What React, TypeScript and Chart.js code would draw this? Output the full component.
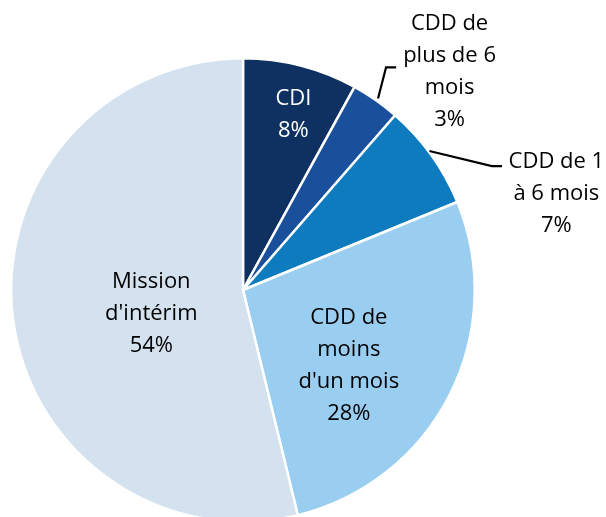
import React, { useEffect, useRef } from "react";
import { Chart, registerables } from "chart.js";

Chart.register(...registerables);

const categories = [
  "CDI",
  "CDD de plus de 6 mois",
  "CDD de 1 à 6 mois",
  "CDD de moins d'un mois",
  "Mission d'intérim",
];
const values = [8, 3.4, 7.4, 27.4, 53.8];
const percentLabels = ["8%", "3%", "7%", "28%", "54%"];
const labelLines = [
  ["CDI"],
  ["CDD de", "plus de 6", "mois"],
  ["CDD de 1", "à 6 mois"],
  ["CDD de", "moins", "d'un mois"],
  ["Mission", "d'intérim"],
];
const colors = ["#0f3162", "#1a4f9c", "#0f7bbf", "#9acef1", "#d4e1ee"];
const textColors = ["#ffffff", "#000000", "#000000", "#000000", "#000000"];

// label placement relative to pie centre, in units of a 230px radius
const REF_R = 230;
const labelPos = [
  { x: 50, y: -184 },
  { x: 205, y: -258.5 },
  { x: 311, y: -121.5 },
  { x: 105, y: 34 },
  { x: -91, y: -1.5 },
];
const leaders: Record<number, number[][]> = {
  1: [
    [134, -190],
    [142, -221],
    [152, -221],
  ],
  2: [
    [185, -138],
    [247, -123],
    [257, -123],
  ],
};

const FONT = "22px 'Open Sans', sans-serif";
const LINE_H = 32;

const labelPlugin = {
  id: "sliceLabels",
  afterDatasetsDraw(chart: any) {
    const ctx = chart.ctx;
    const meta = chart.getDatasetMeta(0);
    ctx.save();
    ctx.font = FONT;
    ctx.textAlign = "center";
    ctx.textBaseline = "alphabetic";
    meta.data.forEach((arc: any, i: number) => {
      const { x, y, outerRadius } = arc.getProps(["x", "y", "outerRadius"], true);
      const k = outerRadius / REF_R;
      const lines = [...labelLines[i], percentLabels[i]];
      const lead = leaders[i];
      if (lead) {
        ctx.strokeStyle = "#000000";
        ctx.lineWidth = 2.2;
        ctx.beginPath();
        lead.forEach((p, j) => {
          const px = x + p[0] * k;
          const py = y + p[1] * k;
          if (j === 0) ctx.moveTo(px, py);
          else ctx.lineTo(px, py);
        });
        ctx.stroke();
      }
      const cx = x + labelPos[i].x * k;
      const by = y + labelPos[i].y * k;
      ctx.fillStyle = textColors[i];
      lines.forEach((ln, j) => ctx.fillText(ln, cx, by + j * LINE_H));
    });
    ctx.restore();
  },
};

export default function App() {
  const ref = useRef<HTMLCanvasElement | null>(null);
  useEffect(() => {
    if (!ref.current) return;
    const chart = new Chart(ref.current, {
      type: "pie",
      data: {
        labels: categories,
        datasets: [
          {
            data: values,
            backgroundColor: colors,
            borderColor: "#ffffff",
            borderWidth: 2.5,
          },
        ],
      },
      options: {
        responsive: false,
        animation: false,
        layout: { padding: { left: 10, top: 57, right: 130, bottom: 7 } },
        plugins: {
          legend: { display: false },
          tooltip: { enabled: false },
        },
      },
      plugins: [labelPlugin],
    });
    return () => chart.destroy();
  }, []);
  return (
    <div style={{ position: "fixed", left: 0, top: 0, width: 606, height: 517, overflow: "hidden", background: "#fff" }}>
      <canvas ref={ref} width={606} height={530} style={{ width: 606, height: 530, display: "block" }} />
    </div>
  );
}
